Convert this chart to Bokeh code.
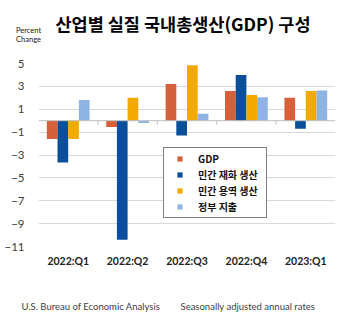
from bokeh.plotting import figure
from bokeh.layouts import column
from bokeh.models import (FactorRange, Range1d, FixedTicker, Span, Label, Legend,
                          LegendItem, ColumnDataSource)
from bokeh.transform import dodge
from bokeh.embed import file_html
from bokeh.resources import INLINE

quarters = ["2022:Q1", "2022:Q2", "2022:Q3", "2022:Q4", "2023:Q1"]
series_names = ["GDP", "민간 재화 생산", "민간 용역 생산", "정부 지출"]
gdp = [-1.6, -0.55, 3.2, 2.6, 2.0]
goods = [-3.65, -10.4, -1.3, 4.0, -0.7]
services = [-1.6, 2.0, 4.85, 2.25, 2.6]
government = [1.8, -0.2, 0.6, 2.05, 2.65]
y_ticks = [5, 3, 1, -1, -3, -5, -7, -9, -11]

colors = ["#D6603A", "#0B4F9B", "#F2A900", "#8FB4E3"]
offsets = [-0.27, -0.09, 0.09, 0.27]
bar_w = 0.18

KR = "Noto Sans CJK KR"
LAT = "Lato"

W = 358
FL, FR = 38, 23
H_HEAD, H_MAIN, H_FOOT = 48, 223, 50


def text_fig(h):
    f = figure(width=W, height=h, x_range=Range1d(0, W), y_range=Range1d(0, h),
               output_backend="svg", toolbar_location=None,
               x_axis_location=None, y_axis_location=None,
               min_border=0, min_border_left=0, min_border_right=0,
               min_border_top=0, min_border_bottom=0, frame_align=False)
    f.grid.visible = False
    f.outline_line_color = None
    f.background_fill_color = "white"
    f.border_fill_color = "white"
    return f


def put(fig, h, x, y, text, **kw):
    fig.add_layout(Label(x=x, y=h - y, x_units="screen", y_units="screen",
                         text=text, **kw))


# ---- header ----
head = text_fig(H_HEAD)
put(head, H_HEAD, 55, 35, "산업별 실질 국내총생산(GDP) 구성", text_font=KR,
    text_font_size="17.5px", text_font_style="bold", text_color="#000000")
put(head, H_HEAD, 28, 34, "Percent", text_font=LAT, text_font_size="7.5px",
    text_color="#222222", text_align="center")
put(head, H_HEAD, 28, 43, "Change", text_font=LAT, text_font_size="7.5px",
    text_color="#222222", text_align="center")

# ---- main chart ----
src = ColumnDataSource(dict(q=quarters, gdp=gdp, goods=goods,
                            services=services, government=government))

p = figure(width=W, height=H_MAIN, x_range=FactorRange(*quarters, range_padding=0),
           y_range=Range1d(-11, 5), output_backend="svg", toolbar_location=None,
           min_border_left=FL, min_border_right=FR, min_border_top=63 - H_HEAD,
           min_border_bottom=H_HEAD + H_MAIN - 246, frame_align=False)
p.outline_line_color = None
p.background_fill_color = "white"
p.border_fill_color = "white"

p.xgrid.grid_line_color = None
p.ygrid.grid_line_color = "#D9D9D9"
p.ygrid.grid_line_width = 1

p.yaxis.ticker = FixedTicker(ticks=y_ticks)
p.yaxis.axis_line_color = None
p.yaxis.major_tick_line_color = None
p.yaxis.minor_tick_line_color = None
p.yaxis.major_label_text_font = LAT
p.yaxis.major_label_text_font_size = "11.5px"
p.yaxis.major_label_text_color = "#404040"
p.yaxis.major_label_standoff = 8

p.xaxis.axis_line_color = None
p.xaxis.major_tick_line_color = None
p.xaxis.major_label_text_font = LAT
p.xaxis.major_label_text_font_style = "bold"
p.xaxis.major_label_text_font_size = "10.5px"
p.xaxis.major_label_text_color = "#222222"
p.xaxis.major_label_standoff = 2

cols = ["gdp", "goods", "services", "government"]
for c, col, off in zip(cols, colors, offsets):
    p.vbar(x=dodge("q", off, range=p.x_range), top=c, bottom=0, width=bar_w,
           source=src, fill_color=col, line_color=None)

p.add_layout(Span(location=0, dimension="width", line_color="#BFBFBF", line_width=1))
p.segment(x0=dodge("b", -0.5, range=p.x_range), x1=dodge("b", -0.5, range=p.x_range),
          y0=0, y1=-0.35, source=ColumnDataSource(dict(b=quarters[1:])),
          line_color="#BFBFBF", line_width=1)

# legend swatches: square markers kept outside the visible y range
items = []
for name, col in zip(series_names, colors):
    d = p.scatter(x=[quarters[0]], y=[1000], marker="square", fill_color=col,
                  line_color=None)
    items.append(LegendItem(label=name, renderers=[d]))
leg = Legend(items=items, location=(125, 28), orientation="vertical",
             label_text_font=KR, label_text_font_size="10px", label_text_color="#111111",
             label_text_font_style="bold",
             glyph_width=25, glyph_height=13, label_height=13, label_width=65,
             spacing=1, label_standoff=6, padding=3, margin=0,
             border_line_color="#000000", border_line_width=1,
             background_fill_color="white", background_fill_alpha=1)
p.add_layout(leg, "center")

# ---- footer ----
foot = text_fig(H_FOOT)
put(foot, H_FOOT, 21, 40, "U.S. Bureau of Economic Analysis", text_font=LAT,
    text_font_size="9.5px", text_color="#404040")
put(foot, H_FOOT, 180, 40, "Seasonally adjusted annual rates", text_font=LAT,
    text_font_size="9.5px", text_color="#404040")

layout = column(head, p, foot, spacing=0)
open("out.html", "w").write(file_html(layout, INLINE))
